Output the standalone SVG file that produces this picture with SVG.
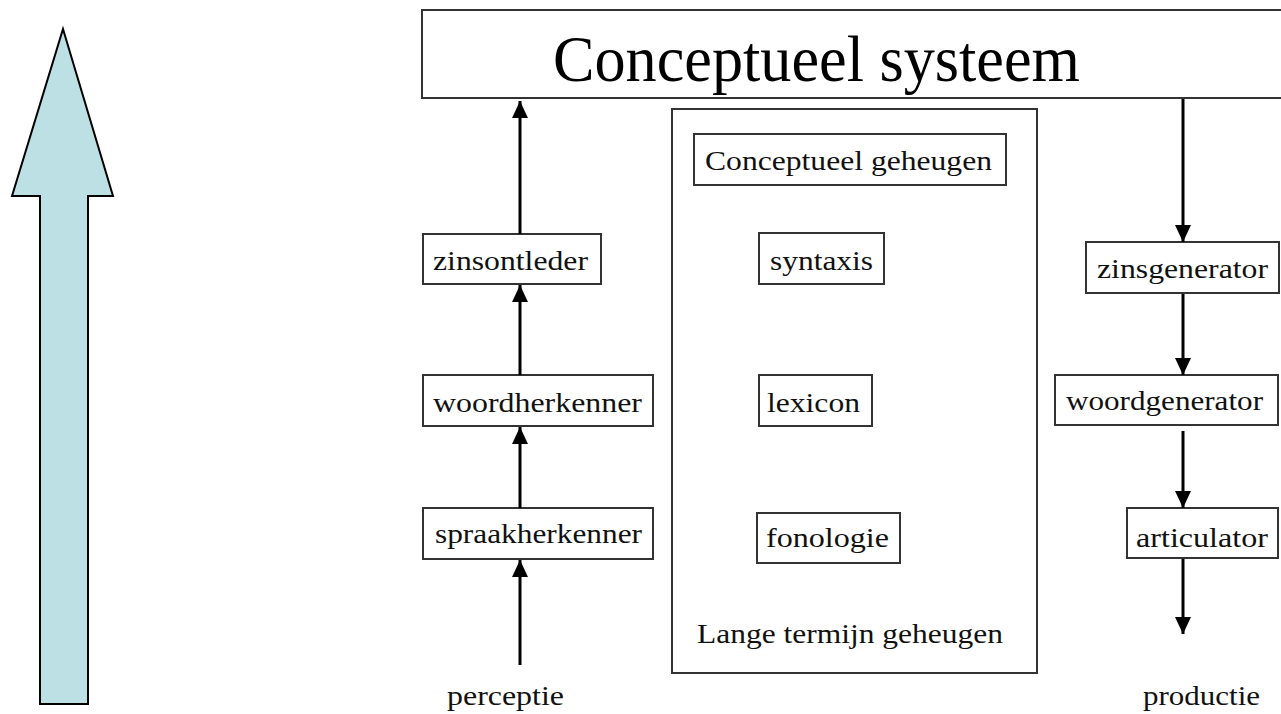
<svg xmlns="http://www.w3.org/2000/svg" width="1281" height="714" viewBox="0 0 1281 714">
<style>
.box{fill:#fff;stroke:#333;stroke-width:2}
.lbl{font-family:"Liberation Serif","Times New Roman",serif;font-size:28px;fill:#111}
.con{stroke:#000;stroke-width:3;fill:none;marker-end:url(#ah)}
</style>
<defs>
<marker id="ah" viewBox="0 0 17 16" markerWidth="17" markerHeight="16" refX="17" refY="8" orient="auto" markerUnits="userSpaceOnUse">
<path d="M0,0 L17,8 L0,16 z" fill="#000"/>
</marker>
</defs>
<rect width="1281" height="714" fill="#fff"/>
<g id="big-arrow">
<path d="M63,29 L113,196 L88,196 L88,704 L40,704 L40,196 L12,196 Z" fill="#bce0e3" stroke="#000" stroke-width="2"/>
</g>
<g id="conceptueel-systeem">
<rect class="box" x="422" y="10" width="870" height="88" stroke="#555" stroke-width="2.5"/>
<text x="553" y="81" font-family="'Liberation Serif','Times New Roman',serif" font-size="66" textLength="527" lengthAdjust="spacingAndGlyphs" fill="#000">Conceptueel systeem</text>
</g>
<g id="ltm">
<rect class="box" x="672" y="109" width="365" height="564"/>
<text class="lbl" x="697" y="643" textLength="306" lengthAdjust="spacingAndGlyphs">Lange termijn geheugen</text>
</g>
<g id="conceptueel-geheugen">
<rect class="box" x="694" y="134" width="312" height="51"/>
<text class="lbl" x="705" y="170" textLength="287" lengthAdjust="spacingAndGlyphs">Conceptueel geheugen</text>
</g>
<g id="syntaxis">
<rect class="box" x="759" y="233" width="125" height="51"/>
<text class="lbl" x="770" y="270" textLength="103" lengthAdjust="spacingAndGlyphs">syntaxis</text>
</g>
<g id="lexicon">
<rect class="box" x="759" y="375" width="113" height="51"/>
<text class="lbl" x="767" y="412" textLength="93" lengthAdjust="spacingAndGlyphs">lexicon</text>
</g>
<g id="fonologie">
<rect class="box" x="757" y="513" width="143" height="50"/>
<text class="lbl" x="766" y="547" textLength="123" lengthAdjust="spacingAndGlyphs">fonologie</text>
</g>
<g id="zinsontleder">
<rect class="box" x="423" y="234" width="178" height="50"/>
<text class="lbl" x="433" y="270" textLength="155" lengthAdjust="spacingAndGlyphs">zinsontleder</text>
</g>
<g id="woordherkenner">
<rect class="box" x="423" y="375" width="230" height="51"/>
<text class="lbl" x="433" y="412" textLength="209" lengthAdjust="spacingAndGlyphs">woordherkenner</text>
</g>
<g id="spraakherkenner">
<rect class="box" x="423" y="508" width="230" height="51"/>
<text class="lbl" x="435" y="543" textLength="207" lengthAdjust="spacingAndGlyphs">spraakherkenner</text>
</g>
<g id="perceptie">
<text class="lbl" x="447" y="705" textLength="117" lengthAdjust="spacingAndGlyphs">perceptie</text>
</g>
<g id="zinsgenerator">
<rect class="box" x="1086" y="242" width="193" height="51"/>
<text class="lbl" x="1097" y="278" textLength="171" lengthAdjust="spacingAndGlyphs">zinsgenerator</text>
</g>
<g id="woordgenerator">
<rect class="box" x="1055" y="375" width="223" height="50"/>
<text class="lbl" x="1066" y="410" textLength="197" lengthAdjust="spacingAndGlyphs">woordgenerator</text>
</g>
<g id="articulator">
<rect class="box" x="1127" y="508" width="151" height="50"/>
<text class="lbl" x="1136" y="547" textLength="132" lengthAdjust="spacingAndGlyphs">articulator</text>
</g>
<g id="productie">
<text class="lbl" x="1143" y="705" textLength="117" lengthAdjust="spacingAndGlyphs">productie</text>
</g>
<g id="connectors">
<line class="con" x1="520" y1="234" x2="520" y2="101"/>
<line class="con" x1="520" y1="375" x2="520" y2="285"/>
<line class="con" x1="520" y1="508" x2="520" y2="427"/>
<line class="con" x1="520" y1="665" x2="520" y2="560"/>
<line class="con" x1="1183" y1="99" x2="1183" y2="242"/>
<line class="con" x1="1183" y1="294" x2="1183" y2="375"/>
<line class="con" x1="1183" y1="431" x2="1183" y2="508"/>
<line class="con" x1="1183" y1="559" x2="1183" y2="634"/>
</g>
</svg>
